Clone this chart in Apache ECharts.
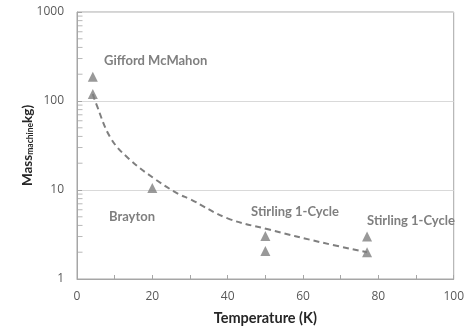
<!DOCTYPE html>
<html>
<head>
<meta charset="utf-8">
<script src="https://cdn.jsdelivr.net/npm/echarts@6/dist/echarts.min.js"></script>
<style>html,body{margin:0;padding:0;background:#fff;}#c{width:467px;height:331px;}</style>
</head>
<body>
<div id="c"></div>
<script>
// Measured points
const tempK = [4.2, 4.2, 20, 50, 50, 77, 77];
const massKg = [187, 120, 10.5, 3.05, 2.06, 3.0, 2.0];
// Dashed trend line
const trendT = [4.2, 5, 9, 14, 21, 27, 30, 40, 51, 65, 77];
const trendMass = [120, 95, 38, 22, 13.0, 9.0, 7.9, 4.8, 3.6, 2.57, 2.0];
// Axis ticks
const xTicks = [0, 20, 40, 60, 80, 100];
const yTicks = [1, 10, 100, 1000];
const yMinorTicks = [2,3,4,5,6,7,8,9,20,30,40,50,60,70,80,90,200,300,400,500,600,700,800,900];
// Labels
const labels = [
  {text: 'Gifford McMahon', x: 104, y: 61, align: 'left'},
  {text: 'Brayton', x: 132, y: 217, align: 'center'},
  {text: 'Stirling 1-Cycle', x: 295, y: 212, align: 'center'},
  {text: 'Stirling 1-Cycle', x: 411, y: 221, align: 'center'}
];

const chart = echarts.init(document.getElementById('c'));
const gray = '#7f7f7f';
const axisGray = '#a6a6a6';
chart.setOption({
  animation: false,
  grid: {left: 77, right: 10, top: 12, bottom: 48, show: true, borderColor: axisGray, borderWidth: 1},
  xAxis: {
    type: 'value', min: xTicks[0], max: xTicks[xTicks.length - 1], interval: 10,
    axisLine: {lineStyle: {color: axisGray}},
    axisTick: {show: true, inside: true, length: 4, lineStyle: {color: axisGray}},
    splitLine: {show: false},
    axisLabel: {color: '#595959', fontSize: 12, fontFamily: 'Open Sans', margin: 12,
      formatter: v => xTicks.indexOf(v) >= 0 ? String(v) : ''},
    name: 'Temperature (K)', nameLocation: 'middle', nameGap: 32, nameMoveOverlap: false,
    nameTextStyle: {color: '#262626', fontSize: 14.5, fontWeight: 'bold', fontFamily: 'Lato'}
  },
  yAxis: {
    type: 'log', logBase: 10, min: yTicks[0], max: yTicks[yTicks.length - 1],
    axisLine: {show: true, lineStyle: {color: axisGray}},
    axisTick: {show: true, inside: true, length: 5, lineStyle: {color: axisGray}},
    splitLine: {show: true, lineStyle: {color: '#d9d9d9'}},
    axisLabel: {color: '#595959', fontSize: 12, fontFamily: 'Open Sans', margin: 13, formatter: v => String(v)},
    name: '{b|Mass}{s|machine}{b|kg)}', nameLocation: 'middle', nameGap: 42, nameRotate: 90, nameMoveOverlap: false,
    nameTextStyle: {color: '#262626', fontFamily: 'Lato',
      rich: {b: {fontSize: 13.5, fontWeight: 'bold', fontFamily: 'Lato', color: '#262626'},
             s: {fontSize: 8.5, fontWeight: 'bold', fontFamily: 'Lato', color: '#262626', verticalAlign: 'bottom', padding: [6,0,0,0]}}}
  },
  series: [
    {
      type: 'scatter', silent: true, z: 5, clip: false,
      symbol: 'rect', symbolSize: [5, 1], symbolOffset: [3, 0],
      data: yMinorTicks.map(v => [xTicks[0], v]),
      itemStyle: {color: axisGray}
    },
    {
      type: 'line', smooth: 0.4, symbol: 'none', z: 2,
      data: trendT.map((t, i) => [t, trendMass[i]]),
      lineStyle: {color: gray, width: 2, type: [6, 4]}
    },
    {
      type: 'scatter', symbol: 'triangle', symbolSize: 10, z: 3,
      data: tempK.map((t, i) => [t, massKg[i]]),
      itemStyle: {color: gray}
    }
  ],
  graphic: labels.map(l => ({
    type: 'text', x: l.x, y: l.y, z: 10,
    style: {text: l.text, fill: '#7f7f7f', font: 'bold 13px Lato', textAlign: l.align, textVerticalAlign: 'middle'}
  }))
});
</script>
</body>
</html>
